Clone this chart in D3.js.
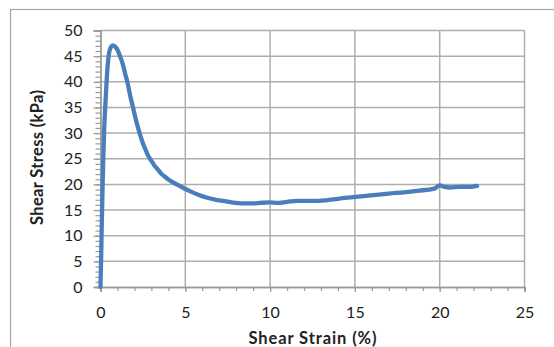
<!DOCTYPE html>
<html><head><meta charset="utf-8">
<script src="https://cdn.jsdelivr.net/npm/d3@7"></script>
<style>html,body{margin:0;padding:0;background:#fff;}svg{display:block;}</style>
</head><body>
<svg id="c" width="554" height="347"></svg>
<script>
const strain = [0, 0.04, 0.08, 0.12, 0.16, 0.22, 0.3, 0.4, 0.5, 0.6, 0.73, 0.85, 1.02, 1.15, 1.31, 1.45, 1.61, 1.75, 1.91, 2.05, 2.2, 2.35, 2.5, 2.65, 2.79, 3.0, 3.18, 3.38, 3.58, 3.8, 4.07, 4.5, 4.95, 5.4, 5.84, 6.3, 6.82, 7.4, 8.0, 8.5, 9.0, 9.4, 10.0, 10.4, 11.0, 11.6, 12.3, 12.9, 13.3, 14.0, 14.9, 15.5, 16.1, 17.0, 18.0, 18.8, 19.4, 19.7, 20.0, 20.3, 20.6, 21.2, 21.8, 22.2];
const stress = [0, 6, 13, 19, 24.7, 31, 36.4, 42.2, 45.5, 46.7, 47.1, 46.9, 46.1, 45.0, 43.5, 41.6, 39.6, 37.3, 35.1, 33.1, 31.2, 29.5, 28.0, 26.8, 25.7, 24.6, 23.7, 22.9, 22.1, 21.5, 20.8, 20.0, 19.2, 18.5, 17.9, 17.4, 17.0, 16.7, 16.4, 16.3, 16.3, 16.4, 16.5, 16.4, 16.6, 16.8, 16.8, 16.8, 16.9, 17.2, 17.5, 17.7, 17.9, 18.2, 18.5, 18.8, 19.0, 19.2, 19.8, 19.5, 19.4, 19.5, 19.5, 19.7];
const xTicks = [0, 5, 10, 15, 20, 25];
const yTicks = [0, 5, 10, 15, 20, 25, 30, 35, 40, 45, 50];
const xTitle = "Shear Strain (%)";
const yTitle = "Shear Stress (kPa)";

const svg = d3.select("#c");
const x = d3.scaleLinear().domain([0, 25]).range([100.5, 524.5]);
const y = d3.scaleLinear().domain([0, 50]).range([287, 30.5]);
const font = "Lato, 'Open Sans', sans-serif";

// outer frame
svg.append("rect").attr("x", 10.5).attr("y", 9.5).attr("width", 600).attr("height", 400)
  .attr("fill", "none").attr("stroke", "#a6a6a6").attr("stroke-width", 1.2);

const gridColor = "#aeaeae";
svg.append("g").selectAll("line").data(yTicks.slice(1)).join("line")
  .attr("x1", x(0)).attr("x2", x(25)).attr("y1", d => y(d)).attr("y2", d => y(d))
  .attr("stroke", gridColor).attr("stroke-width", 1.5);
svg.append("g").selectAll("line").data(xTicks.slice(1)).join("line")
  .attr("x1", d => x(d)).attr("x2", d => x(d)).attr("y1", y(0)).attr("y2", y(50))
  .attr("stroke", gridColor).attr("stroke-width", 1.5);

const yAxis = d3.axisLeft(y).tickValues(yTicks).tickSize(7).tickPadding(11);
const gy = svg.append("g").attr("transform", `translate(${x(0)},0)`).call(yAxis);
const yMinor = d3.axisLeft(y).tickValues(d3.range(0, 51, 1)).tickSize(5).tickFormat("");
const gym = svg.append("g").attr("transform", `translate(${x(0)},0)`).call(yMinor);
const xAxis = d3.axisBottom(x).tickValues(xTicks).tickSize(5).tickPadding(15);
const gx = svg.append("g").attr("transform", `translate(0,${y(0)})`).call(xAxis);
const xMinor = d3.axisBottom(x).tickValues(d3.range(0, 26, 1)).tickSize(4).tickFormat("");
const gxm = svg.append("g").attr("transform", `translate(0,${y(0)})`).call(xMinor);

[gy, gym, gx, gxm].forEach(g => {
  g.select(".domain").attr("stroke", "#9a9a9a").attr("stroke-width", 1.4);
  g.selectAll(".tick line").attr("stroke", "#9a9a9a").attr("stroke-width", 1.2);
  g.selectAll("text").attr("font-family", font).attr("font-size", 16).attr("fill", "#222");
});

svg.append("path").datum(strain.map((s, i) => [s, stress[i]]))
  .attr("fill", "none").attr("stroke", "#4a7ebb").attr("stroke-width", 4.3)
  .attr("stroke-linejoin", "round").attr("stroke-linecap", "round")
  .attr("d", d3.line().x(d => x(d[0])).y(d => y(d[1])).curve(d3.curveMonotoneX));

svg.append("text").attr("x", 312.5).attr("y", 344).attr("text-anchor", "middle")
  .attr("font-family", font).attr("font-weight", "bold")
  .attr("font-size", 16.5).attr("fill", "#222")
  .attr("textLength", 128).attr("lengthAdjust", "spacing").text(xTitle);
svg.append("text").attr("transform", "translate(43,157.5) rotate(-90)").attr("text-anchor", "middle")
  .attr("font-family", font).attr("font-weight", "bold")
  .attr("font-size", 16.5).attr("fill", "#222")
  .attr("textLength", 135).attr("lengthAdjust", "spacing").text(yTitle);
</script>
</body></html>
